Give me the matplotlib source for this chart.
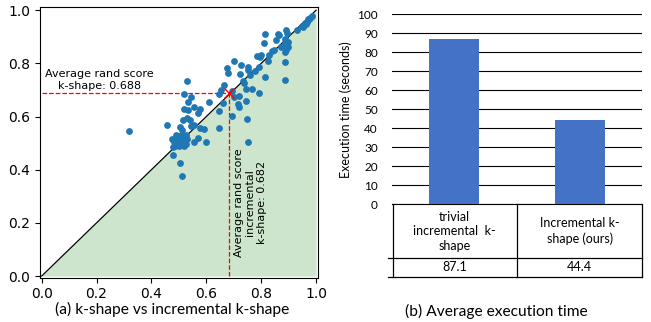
import matplotlib
matplotlib.use("Agg")
import matplotlib.pyplot as plt
from matplotlib.lines import Line2D

# puntos: x = incremental k-shape, y = k-shape
inc_x = [0.318, 0.458, 0.531, 0.518, 0.544, 0.532, 0.519, 0.535, 0.555, 0.576,
         0.570, 0.530, 0.514, 0.542, 0.556, 0.544, 0.504, 0.510, 0.577, 0.593,
         0.610, 0.654, 0.646, 0.666, 0.674, 0.680, 0.702, 0.723, 0.727, 0.753,
         0.753, 0.759, 0.733, 0.739, 0.744, 0.768, 0.718, 0.716, 0.719, 0.744,
         0.660, 0.645, 0.692, 0.646, 0.747, 0.752, 0.598, 0.556, 0.569, 0.527,
         0.503, 0.513, 0.480,
         0.475, 0.483, 0.490, 0.495, 0.500, 0.505, 0.510, 0.515, 0.520, 0.525,
         0.485, 0.478, 0.500, 0.512, 0.492, 0.507, 0.520, 0.530, 0.488,
         0.693, 0.700,
         0.784, 0.798, 0.814, 0.812, 0.830, 0.826, 0.839, 0.845, 0.854, 0.860,
         0.866, 0.872, 0.889, 0.893, 0.885, 0.887, 0.889, 0.885, 0.893, 0.899,
         0.899, 0.885, 0.885, 0.814, 0.793, 0.793, 0.778, 0.930, 0.951, 0.960,
         0.968, 0.976, 0.984, 0.948, 0.962, 0.972, 0.978, 0.796]
ks_y = [0.545, 0.570, 0.734, 0.683, 0.673, 0.655, 0.630, 0.624, 0.637, 0.627,
        0.614, 0.595, 0.586, 0.586, 0.568, 0.565, 0.561, 0.551, 0.556, 0.555,
        0.653, 0.699, 0.684, 0.718, 0.783, 0.764, 0.809, 0.761, 0.792, 0.788,
        0.774, 0.756, 0.732, 0.727, 0.702, 0.702, 0.678, 0.647, 0.637, 0.658,
        0.652, 0.622, 0.602, 0.558, 0.589, 0.503, 0.503, 0.503, 0.521, 0.496,
        0.427, 0.377, 0.455,
        0.515, 0.505, 0.520, 0.500, 0.525, 0.510, 0.495, 0.520, 0.505, 0.530,
        0.490, 0.485, 0.490, 0.530, 0.508, 0.500, 0.490, 0.515, 0.530,
        0.695, 0.675,
        0.827, 0.833, 0.910, 0.877, 0.831, 0.808, 0.846, 0.852, 0.887, 0.912,
        0.906, 0.862, 0.927, 0.915, 0.893, 0.875, 0.852, 0.843, 0.869, 0.881,
        0.862, 0.806, 0.739, 0.749, 0.787, 0.687, 0.771, 0.927, 0.937, 0.950,
        0.955, 0.968, 0.977, 0.940, 0.948, 0.965, 0.972, 0.824]

prom_inc = 0.682
prom_ks = 0.688

# tiempos de ejecucion
metodos = ["trivial\nincremental  k-\nshape", "Incremental k-\nshape (ours)"]
tiempos = [87.1, 44.4]
tiempos_txt = ["87.1", "44.4"]

fig = plt.figure(figsize=(6.51, 3.22), dpi=100)

# ---- (a) scatter ----
ax = fig.add_axes([0.0614, 0.1376, 0.4275, 0.8415])
ax.fill_between([0, 1], [0, 0], [0, 1], color="green", alpha=0.2, lw=0)
ax.plot([0, 1], [0, 1], color="black", lw=0.9)
ax.scatter(inc_x, ks_y, s=15, color="#1f77b4", zorder=3)
ax.plot([0, prom_inc], [prom_ks, prom_ks], "r--", lw=0.9)
ax.plot([prom_inc, prom_inc], [0, prom_ks], "r--", lw=0.9)
ax.plot([prom_inc], [prom_ks], "rx", ms=7, zorder=4)
ax.text(0.211, 0.737, "Average rand score\nk-shape: 0.688", ha="center", va="center",
        fontsize=8, multialignment="center")
ax.text(0.76, 0.277, "Average rand score\nincremental\nk-shape: 0.682", rotation=90,
        ha="center", va="center", fontsize=8, multialignment="center")
ax.set_xlim(-0.006, 1.008)
ax.set_ylim(-0.006, 1.013)
ax.set_xticks([0, 0.2, 0.4, 0.6, 0.8, 1.0])
ax.set_yticks([0, 0.2, 0.4, 0.6, 0.8, 1.0])
ax.tick_params(labelsize=10)
fig.text(0.264, 0.039, "(a) k-shape vs incremental k-shape", ha="center", va="center",
         fontsize=11.2, family="Lato")

# ---- (b) barras ----
ax2 = fig.add_axes([0.6017, 0.3655, 0.3849, 0.5901])
pos = [0, 1]
ax2.bar(pos, tiempos, width=0.4, color="#4472C4", zorder=3)
ax2.set_xlim(-0.5, 1.5)
ax2.set_ylim(0, 100)
ax2.set_yticks(range(0, 101, 10))
ax2.set_yticklabels([str(v) for v in range(0, 101, 10)], family="Lato", fontsize=8.5)
ax2.set_xticks([])
ax2.tick_params(axis="y", length=0, pad=10)
ax2.grid(axis="y", color="black", lw=0.8, zorder=0)
for s in ["top", "right", "left"]:
    ax2.spines[s].set_visible(False)
ax2.spines["bottom"].set_color("black")
ax2.set_ylabel("Execution time (seconds)", family="Lato", fontsize=9, labelpad=4)

# tabla de datos debajo del grafico
tr = ax2.transAxes
y_sep = (0.1997 - 0.3655) / 0.5901
y_bot = (0.1407 - 0.3655) / 0.5901
x_l = (392.7 / 651 - 0.6017) / 0.3849
lineas = [
    ([x_l, x_l], [0, y_bot]),
    ([0.5, 0.5], [0, y_bot]),
    ([1, 1], [0, y_bot]),
    ([-0.013, 1], [y_sep, y_sep]),
    ([-0.013, 1], [y_bot, y_bot]),
]
for xs, ys in lineas:
    fig.add_artist(Line2D(xs, ys, transform=tr, color="black", lw=0.9))
for i, (m, t) in enumerate(zip(metodos, tiempos_txt)):
    xc = 0.25 + 0.5 * i
    ax2.text(xc, y_sep / 2, m, transform=tr, ha="center", va="center",
             family="Lato", fontsize=9, linespacing=1.25)
    ax2.text(xc, (y_sep + y_bot) / 2, t, transform=tr, ha="center", va="center",
             family="Lato", fontsize=9)
fig.text(0.763, 0.034, "(b) Average execution time", ha="center", va="center",
         fontsize=11.2, family="Lato")

fig.savefig("out.png", dpi=100)
